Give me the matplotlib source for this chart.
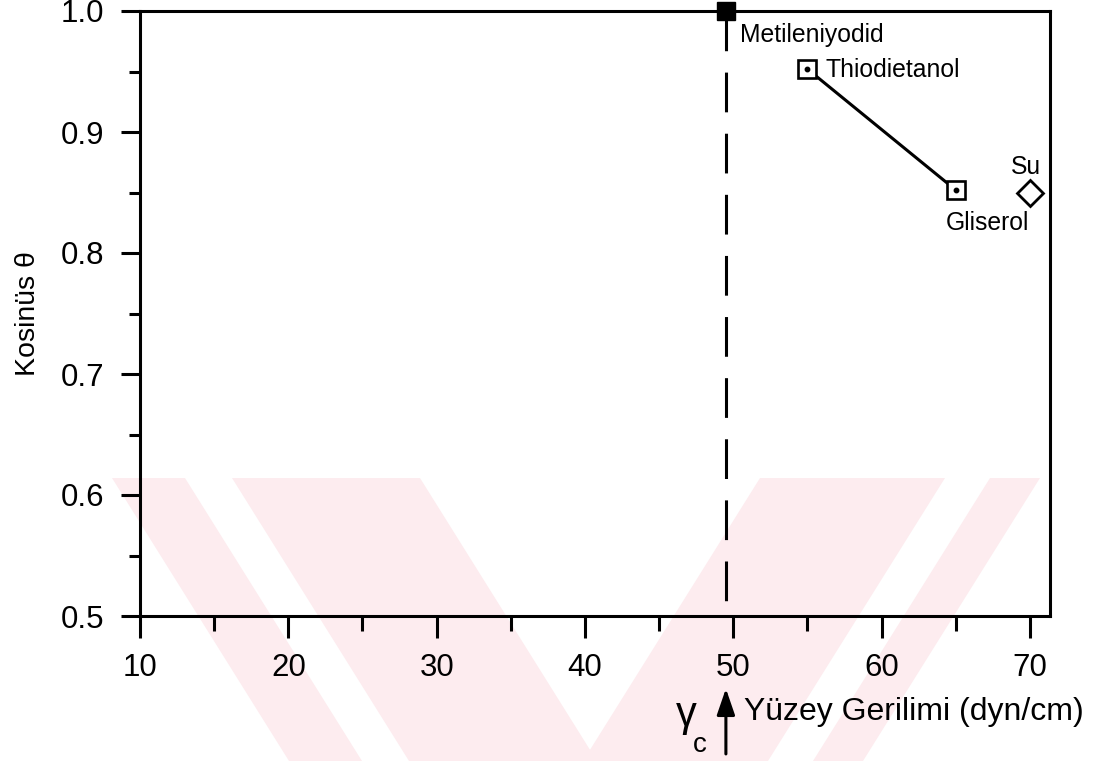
import matplotlib.pyplot as plt
from matplotlib.patches import Polygon
import numpy as np

plt.rcParams['font.family'] = ['Liberation Sans', 'DejaVu Sans']

# veriler
sivilar = ["Metileniyodid", "Thiodietanol", "Gliserol", "Su"]
yuzey_gerilimi = [49.5, 55.0, 65.0, 70.0]
kosinus = [1.0, 0.952, 0.852, 0.850]
gamma_c = 49.5

xticks = [10, 20, 30, 40, 50, 60, 70]
yticks = [0.5, 0.6, 0.7, 0.8, 0.9, 1.0]

W, H = 1094, 761
fig = plt.figure(figsize=(W / 100, H / 100), dpi=100)

# arka plandaki soluk pembe filigran (yaklasik)
def px(pts):
    return [(x / W, 1 - y / H) for x, y in pts]

pembe = '#fdecef'
filigran = [
    [(112, 478), (185, 478), (362, 761), (289, 761)],
    [(232, 478), (420, 478), (597, 761), (409, 761)],
    [(760, 478), (945, 478), (768, 761), (583, 761)],
    [(990, 478), (1040, 478), (863, 761), (813, 761)],
]
for p in filigran:
    fig.add_artist(Polygon(px(p), closed=True, transform=fig.transFigure,
                           facecolor=pembe, edgecolor='none', zorder=-1))

ax = fig.add_axes([140 / W, 1 - 616 / H, 910 / W, 605 / H])
ax.set_facecolor('none')

ax.set_xlim(10, 71.35)
ax.set_ylim(0.5, 1.0)

# gamma_c kesikli dikey cizgi
ax.plot([gamma_c, gamma_c], [1.0, 0.5], color='black', lw=2.2,
        linestyle=(0, (13, 7)), zorder=2)

# Metileniyodid dolu kare
ax.plot(yuzey_gerilimi[0], kosinus[0], marker='s', ms=13.5, color='black',
        clip_on=False, zorder=5)

# Thiodietanol - Gliserol cizgisi
ax.plot(yuzey_gerilimi[1:3], kosinus[1:3], color='black', lw=2.2, zorder=3)
ax.plot(yuzey_gerilimi[1:3], kosinus[1:3], linestyle='none', marker='s', ms=12.5,
        mfc='white', mec='black', mew=1.9, zorder=4)
ax.plot(yuzey_gerilimi[1:3], kosinus[1:3], linestyle='none', marker='o', ms=3.2,
        color='black', zorder=5)

# Su elmas
ax.plot(yuzey_gerilimi[3], kosinus[3], marker='D', ms=13.5, mfc='white',
        mec='black', mew=2.0, linestyle='none', zorder=4)

fs = 17.8
ax.text(50.45, 0.980, sivilar[0], fontsize=fs, ha='left', va='center')
ax.text(56.2, 0.951, sivilar[1], fontsize=fs, ha='left', va='center')
ax.text(67.15, 0.825, sivilar[2], fontsize=fs, ha='center', va='center')
ax.text(69.75, 0.871, sivilar[3], fontsize=fs, ha='center', va='center')

for s in ax.spines.values():
    s.set_linewidth(2.2)

ax.set_xticks(xticks)
ax.set_xticks(np.arange(15, 71, 10), minor=True)
ax.set_yticks(yticks)
ax.set_yticks(np.arange(0.55, 1.0, 0.1), minor=True)
ax.set_yticklabels([f"{v:.1f}" for v in yticks])

ax.tick_params(axis='x', which='major', direction='out', length=16, width=2.2,
               labelsize=22.5, pad=11)
ax.tick_params(axis='x', which='minor', direction='out', length=11, width=2.2)
ax.tick_params(axis='y', which='major', direction='out', length=14, width=2.2,
               labelsize=22.5, pad=12)
ax.tick_params(axis='y', which='minor', direction='out', length=8, width=2.2)

ax.set_ylabel("Kosinüs θ", fontsize=20.5)
ax.yaxis.set_label_coords((41 - 140) / 910, 0.5)

# x ekseni etiketi, gamma_c oku
ax.annotate('', xy=(gamma_c, -0.120), xytext=(gamma_c, -0.228),
            xycoords=('data', 'axes fraction'), textcoords=('data', 'axes fraction'),
            arrowprops=dict(arrowstyle='-|>,head_length=1.6,head_width=0.55',
                            color='black', lw=2.2, shrinkA=0, shrinkB=0),
            annotation_clip=False)
xt = ax.get_xaxis_transform()
ax.text(50.75, -0.159, "Yüzey Gerilimi (dyn/cm)", fontsize=23, ha='left',
        va='center', transform=xt)
ax.text(46.15, (616 - 726) / 605, "γ", fontsize=30, ha='left', va='baseline',
        transform=xt)
ax.text(47.3, (616 - 752) / 605, "c", fontsize=20, ha='left',
        va='baseline', transform=xt)

fig.savefig('out.png', dpi=100)
